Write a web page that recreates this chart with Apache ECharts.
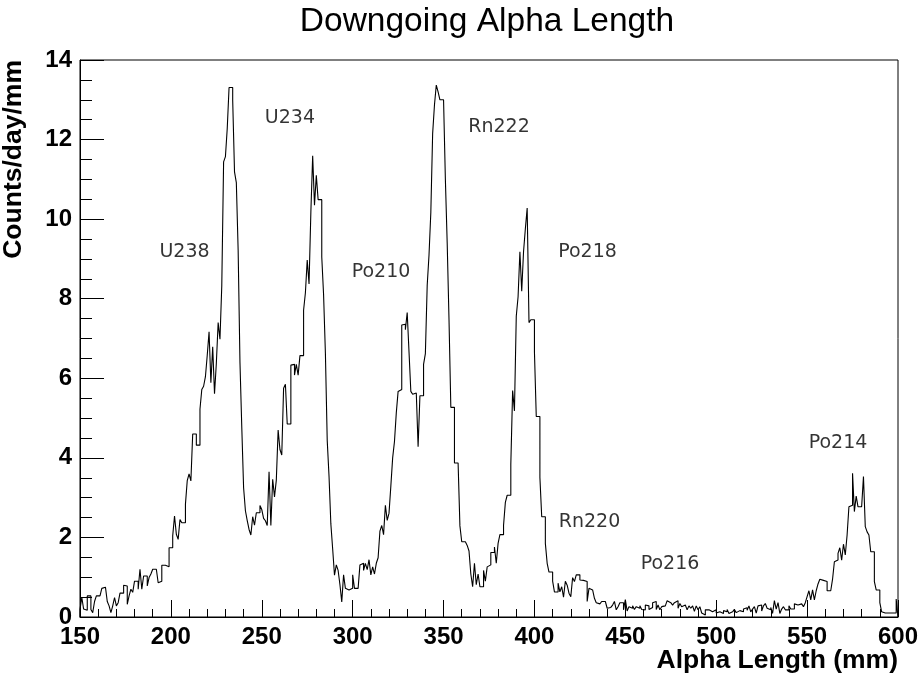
<!DOCTYPE html>
<html>
<head>
<meta charset="utf-8">
<script src="https://cdn.jsdelivr.net/npm/echarts@6/dist/echarts.min.js"></script>
<style>
html, body { margin: 0; padding: 0; background: #fff; }
#chart { width: 924px; height: 679px; }
</style>
</head>
<body>
<div id="chart"></div>
<script>
// histogram: 1 mm bins from 150 to 600 mm
var binStart = 150;
var binWidth = 1;
var counts = [
    // 150
    0.19, 0.49, 0.2, 0.17, 0.53, 0.53, 0.19, 0.11, 0.39, 0.53,
    0.53, 0.5, 0.72, 0.75, 0.75, 0.39, 0.28, 0.11, 0.28, 0.49,
    0.28, 0.36, 0.6, 0.6, 0.8, 0.78, 0.32, 0.53, 0.7, 0.62,
    0.9, 0.9, 0.7, 1.2, 0.7, 1.03, 1.03, 0.78, 0.99, 1.08,
    1.2, 1.2, 1.2, 0.86, 0.9, 1.3, 1.3, 1.26, 1.26, 1.74,
    // 200
    1.74, 2.04, 2.54, 2.08, 1.95, 2.45, 2.37, 2.37, 2.83, 3.43,
    3.6, 3.42, 4.6, 4.6, 4.32, 4.32, 5.22, 5.72, 5.8, 6.04,
    6.58, 7.17, 5.89, 6.79, 5.61, 6.37, 7.4, 6.98, 8.33, 11.44,
    11.57, 12.28, 13.31, 13.31, 12.99, 11.19, 10.92, 9.22, 6.4, 4.77,
    3.25, 2.67, 2.42, 2.2, 2.06, 2.52, 2.31, 2.62, 2.62, 2.8,
    // 250
    2.7, 2.48, 2.42, 2.3, 3.65, 2.3, 3.46, 3.02, 3.44, 4.7,
    4.21, 4.07, 5.75, 5.85, 4.85, 4.85, 6.33, 6.35, 6.08, 6.35,
    6.08, 6.57, 6.57, 7.71, 8.15, 8.97, 8.37, 10.17, 11.59, 10.35,
    11.1, 10.49, 10.49, 9.05, 8.1, 6.63, 4.44, 3.53, 2.34, 1.71,
    1.05, 1.31, 1.17, 0.81, 0.38, 1.06, 0.72, 0.68, 0.72, 0.72,
    // 300
    1.06, 0.72, 0.72, 0.72, 1.31, 1.35, 1.17, 1.35, 1.19, 1.44,
    1.06, 1.26, 1.08, 1.35, 1.49, 2.16, 2.3, 2.07, 2.81, 2.43,
    2.61, 3.29, 4.0, 4.41, 5.13, 5.67, 5.72, 7.34, 7.36, 7.22,
    7.65, 6.66, 5.67, 5.6, 5.63, 5.67, 4.28, 5.56, 5.56, 6.35,
    6.62, 8.33, 9.1, 10.17, 12.15, 12.87, 13.37, 13.2, 13.0, 13.0,
    // 350
    13.0, 11.0, 9.4, 7.47, 5.27, 5.27, 3.87, 3.87, 3.87, 2.29,
    1.89, 1.89, 1.89, 1.8, 1.66, 1.08, 0.76, 1.35, 0.81, 1.08,
    0.76, 0.76, 1.17, 0.9, 1.26, 1.31, 1.62, 1.62, 1.76, 1.35,
    1.85, 2.07, 2.07, 2.3, 2.88, 3.06, 3.06, 3.83, 5.69, 5.18,
    7.56, 8.05, 9.18, 8.19, 9.18, 9.76, 10.28, 7.4, 7.47, 7.47,
    // 400
    6.66, 5.04, 5.04, 3.51, 2.52, 2.52, 1.85, 1.35, 1.13, 1.13,
    0.9, 0.63, 0.63, 0.85, 0.63, 0.76, 0.5, 0.9, 0.8, 0.6,
    0.51, 0.99, 0.89, 1.06, 1.06, 0.93, 0.92, 0.89, 0.89, 0.39,
    0.72, 0.68, 0.68, 0.47, 0.36, 0.33, 0.33, 0.39, 0.39, 0.34,
    0.22, 0.24, 0.19, 0.3, 0.39, 0.18, 0.26, 0.36, 0.36, 0.18,
    // 450
    0.44, 0.15, 0.26, 0.22, 0.28, 0.19, 0.26, 0.22, 0.28, 0.19,
    0.18, 0.3, 0.28, 0.19, 0.24, 0.36, 0.39, 0.19, 0.3, 0.18,
    0.26, 0.28, 0.33, 0.41, 0.36, 0.41, 0.3, 0.36, 0.41, 0.22,
    0.34, 0.26, 0.3, 0.3, 0.18, 0.28, 0.22, 0.28, 0.14, 0.28,
    0.18, 0.26, 0.1, 0.05, 0.18, 0.18, 0.13, 0.13, 0.18, 0.18,
    // 500
    0.1, 0.13, 0.18, 0.09, 0.16, 0.13, 0.19, 0.09, 0.13, 0.09,
    0.19, 0.11, 0.16, 0.13, 0.13, 0.2, 0.23, 0.17, 0.28, 0.13,
    0.2, 0.26, 0.1, 0.28, 0.3, 0.15, 0.28, 0.34, 0.22, 0.18,
    0.24, 0.09, 0.41, 0.2, 0.36, 0.09, 0.2, 0.26, 0.18, 0.18,
    0.28, 0.2, 0.2, 0.33, 0.3, 0.26, 0.33, 0.3, 0.26, 0.36,
    // 550
    0.51, 0.66, 0.43, 0.68, 0.43, 0.66, 0.83, 0.95, 0.92, 0.92,
    0.89, 0.66, 0.66, 0.66, 0.95, 1.39, 1.43, 1.6, 1.74, 1.43,
    1.83, 1.56, 2.06, 2.77, 2.81, 3.61, 2.65, 3.04, 2.77, 2.77,
    2.77, 3.53, 2.27, 2.14, 2.06, 1.64, 1.64, 0.89, 0.68, 0.68,
    0.36, 0.13, 0.1, 0.12, 0.1, 0.1, 0.1, 0.1, 0.1, 0.45
];

// peak names and where they sit (mm, counts)
var peakNames = ['U238', 'U234', 'Po210', 'Rn222', 'Po218', 'Rn220', 'Po216', 'Po214'];
var peakX = [207.5, 265.5, 315.6, 380.5, 429.2, 430.3, 474.6, 567.0];
var peakY = [9.17, 12.54, 8.67, 12.31, 9.17, 2.39, 1.33, 4.37];

var xMin = 150, xMax = 600, xStep = 50;
var yMin = 0, yMax = 14, yStep = 2;

var titleText = 'Downgoing Alpha Length';
var xTitle = 'Alpha Length (mm)';
var yTitle = 'Counts/day/mm';

// outline of the histogram: left and right edge of every bin
var outline = [[binStart, 0]];
for (var i = 0; i < counts.length; i++) {
    var lo = binStart + i * binWidth;
    outline.push([lo, counts[i]]);
    outline.push([lo + binWidth, counts[i]]);
}
outline.push([binStart + counts.length * binWidth, 0]);

var peakData = [];
for (var k = 0; k < peakNames.length; k++) {
    peakData.push([peakX[k], peakY[k], peakNames[k]]);
}

var gridLeft = 80, gridRight = 26, gridTop = 60, gridBottom = 62;
var W = 924, H = 679;

var myChart = echarts.init(document.getElementById('chart'), null, {renderer: 'canvas'});
var option = {
    animation: false,
    backgroundColor: '#fff',
    title: {
        text: titleText,
        left: 482,
        top: 0,
        textAlign: 'center',
        textStyle: {
            fontFamily: 'Liberation Sans',
            fontWeight: 'normal',
            fontSize: 33.5,
            color: '#000'
        }
    },
    grid: {
        left: gridLeft,
        right: gridRight,
        top: gridTop,
        bottom: gridBottom,
        show: true,
        borderColor: '#000',
        borderWidth: 1,
        backgroundColor: 'transparent'
    },
    xAxis: {
        type: 'value',
        min: xMin,
        max: xMax,
        interval: xStep,
        axisLine: {onZero: false, lineStyle: {color: '#000', width: 1}},
        axisTick: {inside: true, length: 17, lineStyle: {color: '#000'}},
        minorTick: {show: true, splitNumber: 5, length: 8, lineStyle: {color: '#000'}},
        splitLine: {show: false},
        axisLabel: {
            margin: 8,
            fontFamily: 'Liberation Sans',
            fontWeight: 'bold',
            fontSize: 24,
            color: '#000'
        }
    },
    yAxis: {
        type: 'value',
        min: yMin,
        max: yMax,
        interval: yStep,
        axisLine: {show: true, lineStyle: {color: '#000', width: 1}},
        axisTick: {show: true, inside: true, length: 24, lineStyle: {color: '#000'}},
        minorTick: {show: true, splitNumber: 4, length: 12, lineStyle: {color: '#000'}},
        splitLine: {show: false},
        axisLabel: {
            margin: 8,
            fontFamily: 'Liberation Sans',
            fontWeight: 'bold',
            fontSize: 24,
            color: '#000'
        }
    },
    series: [
        {
            name: 'hist',
            type: 'line',
            data: outline,
            symbol: 'none',
            silent: true,
            lineStyle: {color: '#000', width: 1.1}
        },
        {
            name: 'peaks',
            type: 'scatter',
            data: peakData,
            symbolSize: 1,
            silent: true,
            itemStyle: {color: 'rgba(0,0,0,0)'},
            label: {
                show: true,
                position: 'inside',
                formatter: function (p) { return p.value[2]; },
                fontFamily: 'DejaVu Sans',
                fontSize: 19,
                color: '#000',
                textBorderWidth: 0
            }
        }
    ],
    graphic: [
        {
            type: 'text',
            x: W - gridRight,
            y: H - 18,
            style: {
                text: xTitle,
                align: 'right',
                verticalAlign: 'middle',
                font: 'bold 26.5px "Liberation Sans"',
                fill: '#000'
            }
        },
        {
            type: 'text',
            x: 14,
            y: gridTop,
            rotation: Math.PI / 2,
            style: {
                text: yTitle,
                align: 'right',
                verticalAlign: 'middle',
                font: 'bold 26.5px "Liberation Sans"',
                fill: '#000'
            }
        }
    ]
};
myChart.setOption(option);
</script>
</body>
</html>
